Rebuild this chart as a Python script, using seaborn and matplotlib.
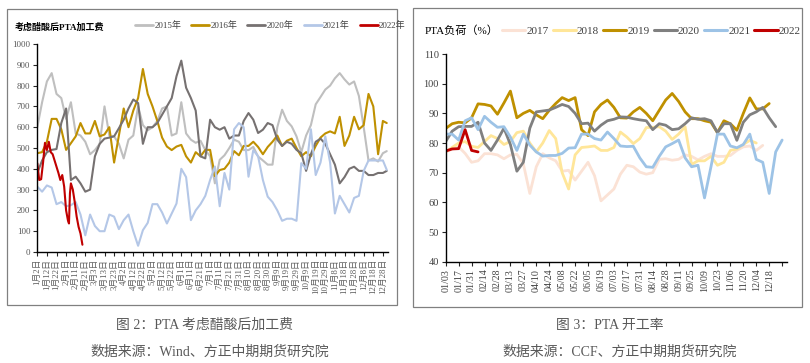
import matplotlib
matplotlib.use('Agg')
import matplotlib.pyplot as plt
import pandas as pd
import seaborn as sns
from matplotlib.patches import Rectangle
from matplotlib.lines import Line2D

sns.set_style('white')
plt.rcParams['font.family'] = ['Liberation Serif', 'Noto Sans CJK SC', 'DejaVu Sans']

# ---------------- left chart data (day of year offset from Jan 2) ----------------
days = list(range(0, 361, 5)) + [364]
v2015 = [600, 720, 820, 860, 760, 740, 640, 720, 570, 560, 530, 470, 490, 520, 700, 560,
         556, 520, 450, 540, 560, 700, 610, 585, 600, 630, 690, 700, 560, 570, 720, 570,
         540, 525, 535, 490, 460, 330, 443, 465, 500, 540, 530, 490, 490, 505, 459, 440,
         420, 420, 600, 684, 630, 604, 556, 480, 560, 610, 710, 745, 781, 800, 835, 860,
         830, 805, 820, 750, 600, 440, 450, 435, 475, 485]
v2016 = [475, 480, 530, 640, 640, 590, 491, 523, 556, 620, 570, 570, 630, 556, 565, 600,
         430, 560, 690, 600, 680, 740, 880, 760, 700, 630, 550, 507, 490, 507, 515, 460,
         430, 480, 460, 491, 491, 365, 394, 400, 430, 485, 465, 510, 510, 530, 505, 470,
         505, 530, 560, 510, 535, 545, 500, 460, 480, 460, 510, 550, 570, 580, 570, 650,
         510, 560, 650, 590, 610, 760, 700, 470, 630, 620]
v2020 = [380, 440, 480, 491, 495, 620, 690, 346, 362, 330, 290, 300, 460, 520, 545, 550,
         556, 595, 636, 690, 733, 716, 520, 600, 600, 620, 660, 700, 740, 845, 920, 790,
         740, 680, 460, 450, 636, 600, 588, 600, 545, 560, 560, 630, 668, 636, 572, 588,
         620, 610, 540, 510, 530, 520, 491, 475, 390, 470, 530, 545, 520, 470, 420, 330,
         360, 400, 410, 390, 390, 370, 370, 380, 380, 390]
v2021 = [314, 290, 320, 310, 230, 240, 220, 225, 240, 180, 80, 180, 125, 100, 100, 180,
         170, 110, 153, 180, 100, 30, 105, 140, 230, 230, 190, 137, 185, 233, 400, 360,
         153, 200, 230, 270, 346, 411, 220, 380, 300, 590, 620, 600, 362, 490, 460, 346,
         266, 240, 200, 150, 160, 160, 150, 427, 400, 590, 370, 430, 556, 430, 185, 270,
         230, 190, 260, 270, 390, 440, 440, 440, 440, 395]
days_2022 = [0, 2, 4, 6, 8, 10, 12, 14, 16, 18, 20, 22, 24, 26, 28, 30, 32, 33, 34, 35,
             37, 39, 41, 43, 45, 47]
v2022 = [427, 346, 350, 430, 525, 490, 530, 480, 470, 440, 410, 380, 346, 370, 314, 200,
         150, 137, 282, 330, 300, 240, 170, 121, 89, 35]
left_years = ['2015年', '2016年', '2020年', '2021年', '2022年']
left_colors = ['#BFBFBF', '#BF9000', '#767171', '#B4C7E7', '#C00000']
left_ticks = list(range(0, 361, 10))
left_ticklabels = ['1月2日', '1月12日', '1月22日', '2月1日', '2月11日', '2月21日', '3月3日',
                   '3月13日', '3月23日', '4月2日', '4月12日', '4月22日', '5月2日', '5月12日',
                   '5月22日', '6月1日', '6月11日', '6月21日', '7月1日', '7月11日', '7月21日',
                   '7月31日', '8月10日', '8月20日', '8月30日', '9月9日', '9月19日', '9月29日',
                   '10月9日', '10月19日', '10月29日', '11月8日', '11月18日', '11月28日',
                   '12月8日', '12月18日', '12月28日']

# ---------------- right chart data (weekly) ----------------
r2017 = [77, 78, 78.7, 76.5, 73.5, 74, 76.4, 76.4, 76, 74.7, 76, 76.2, 73, 63, 72, 76.4,
         75, 74, 70.5, 70.8, 67.5, 70.5, 73.5, 69, 60.5, 62.5, 64.5, 69.5, 72.5, 72, 70.2,
         69.5, 70, 74.5, 74.7, 74.2, 74.5, 76, 75.5, 74.3, 75.5, 76.4, 75.5, 75.5, 75.8,
         77.5, 78.7, 79, 77.5, 79.2]
r2018 = [77, 78.5, 80, 80.5, 78.9, 78.5, 80.5, 82.5, 81.5, 79.5, 80.5, 83.5, 84, 80, 77,
         80, 84.2, 81.5, 70, 64.5, 76, 78.5, 78.7, 79, 77.5, 77.5, 78.5, 83.7, 82, 79.8,
         81.5, 85.2, 85.3, 85.5, 84, 81.2, 83, 85.5, 72.8, 74, 74, 75.5, 72.5, 73.5, 77.5,
         78, 79.5, 80.9, 80]
r2019 = [84.9, 86.5, 87, 86.8, 88.5, 93.2, 93, 92.5, 89.7, 93.5, 97.5, 88.5, 90, 91, 89.5,
         88.2, 91, 93.3, 95.3, 94.3, 95.3, 84.5, 82.5, 90.5, 93, 94.5, 92, 88.5, 88.4, 90.5,
         92, 90, 87.5, 91, 94.5, 96.7, 94, 90.5, 88.2, 88.2, 87.5, 87, 83.5, 87.5, 86.5,
         84.3, 90, 95.2, 91.5, 91.5, 93.3]
r2020 = [80.5, 84, 85.5, 85.6, 85.6, 87, 80, 77.5, 81, 85, 79.5, 70.5, 73.5, 85, 90.5,
         90.8, 91.1, 92, 93, 92.3, 90, 86.5, 86.7, 84, 86, 87.5, 88, 88.8, 88.7, 88.2, 87.8,
         87.5, 84.5, 86.5, 86, 84.5, 84.8, 86.5, 88.5, 88, 88.2, 87.5, 83.5, 86.5, 86.5,
         80.9, 87, 89.5, 90.5, 92, 88.5, 85.5]
r2021 = [83, 83, 81, 87.5, 88.5, 84.5, 89, 87, 85.3, 85.5, 82, 77.5, 83, 79.3, 77, 75.6,
         75.8, 75.8, 76.5, 78.3, 78.4, 83, 83, 81.5, 81, 83.7, 81.5, 79, 78.8, 78.9, 75, 72,
         71.8, 75.5, 78.7, 79.8, 81, 75, 72, 72.5, 61.5, 72, 83, 83, 79, 78.4, 79.5, 83,
         74.5, 73.5, 63, 77, 81]
r2022 = [77.3, 78, 78.1, 84.5, 77.5, 77]
right_years = ['2017', '2018', '2019', '2020', '2021', '2022']
right_colors = ['#FBE2D5', '#FFE699', '#BF9000', '#808080', '#9DC3E6', '#C00000']
right_ticklabels = ['01/03', '01/17', '01/31', '02/14', '02/28', '03/13', '03/27', '04/10',
                    '04/24', '05/08', '05/22', '06/05', '06/19', '07/03', '07/17', '07/31',
                    '08/14', '08/28', '09/11', '09/25', '10/09', '10/23', '11/06', '11/20',
                    '12/04', '12/18', '']

# ---------------- build frames ----------------
left_rows = []
for yr, vals in zip(left_years[:4], [v2015, v2016, v2020, v2021]):
    for d, v in zip(days, vals):
        left_rows.append((d, v, yr))
for d, v in zip(days_2022, v2022):
    left_rows.append((d, v, '2022年'))
df_left = pd.DataFrame(left_rows, columns=['day', 'value', 'year'])

right_rows = []
for yr, vals in zip(right_years, [r2017, r2018, r2019, r2020, r2021, r2022]):
    for w, v in enumerate(vals):
        right_rows.append((w, v, yr))
df_right = pd.DataFrame(right_rows, columns=['week', 'value', 'year'])

W, H = 810, 363
fig = plt.figure(figsize=(W / 100, H / 100), dpi=100)
fig.patch.set_facecolor('white')

def fx(px):
    return px / W

def fy(py):
    return 1 - py / H

# panel frames
fig.add_artist(Rectangle((fx(7), fy(305)), fx(390), 296 / H, transform=fig.transFigure,
                         fill=False, edgecolor='#808080', lw=0.9))
fig.add_artist(Rectangle((fx(413), fy(307)), fx(389), 299 / H, transform=fig.transFigure,
                         fill=False, edgecolor='#808080', lw=0.9))

# ---------------- left axes ----------------
ax1 = fig.add_axes([fx(37.3), fy(252), fx(350.4), 208 / H])
sns.lineplot(data=df_left, x='day', y='value', hue='year', hue_order=left_years,
             palette=left_colors, ax=ax1, linewidth=1.5, legend=False, sort=False,
             estimator=None, errorbar=None)
ax1.set_xlim(0, 365)
ax1.set_ylim(0, 1000)
ax1.set_yticks(range(0, 1001, 100))
ax1.set_xticks(left_ticks)
ax1.set_xticklabels(left_ticklabels, rotation=90, fontsize=6.3, color='#595959')
ax1.tick_params(axis='y', labelsize=6.5, labelcolor='#595959', length=3, width=0.8,
                direction='out', left=True, pad=2)
ax1.tick_params(axis='x', length=3, width=0.8, direction='out', bottom=True, pad=2)
ax1.set_xlabel('')
ax1.set_ylabel('')
for s in ['top', 'right']:
    ax1.spines[s].set_visible(False)
for s in ['left', 'bottom']:
    ax1.spines[s].set_color('black')
    ax1.spines[s].set_linewidth(1.0)

fig.text(fx(15), fy(27), '考虑醋酸后PTA加工费', fontsize=6.5, fontweight='bold',
         color='black', va='center', ha='left')
h1 = [Line2D([], [], color=c, lw=2) for c in left_colors]
fig.legend(h1, left_years, loc='center left', bbox_to_anchor=(fx(135), fy(26)),
           ncol=5, frameon=False, fontsize=6.5, handlelength=2.0, handletextpad=0.15,
           columnspacing=1.1, borderpad=0, borderaxespad=0, labelcolor='#404040')

# ---------------- right axes ----------------
ax2 = fig.add_axes([fx(445.7), fy(261.7), fx(341.3), 207.7 / H])
sns.lineplot(data=df_right, x='week', y='value', hue='year', hue_order=right_years,
             palette=right_colors, ax=ax2, linewidth=2.0, legend=False, sort=False,
             estimator=None, errorbar=None)
ax2.set_xlim(0, 52.75)
ax2.set_ylim(40, 110)
ax2.set_yticks(range(40, 111, 10))
ax2.set_xticks(range(0, 53, 2))
ax2.set_xticklabels(right_ticklabels, rotation=90, fontsize=7.2, color='#404040')
ax2.tick_params(axis='y', labelsize=7.5, labelcolor='#404040', length=3, width=0.8,
                direction='out', left=True, pad=2)
ax2.tick_params(axis='x', length=3, width=0.8, direction='out', bottom=True, pad=2)
ax2.set_xlabel('')
ax2.set_ylabel('')
for s in ['top', 'right']:
    ax2.spines[s].set_visible(False)
for s in ['left', 'bottom']:
    ax2.spines[s].set_color('black')
    ax2.spines[s].set_linewidth(1.0)

fig.text(fx(425), fy(31), 'PTA负荷（%）', fontsize=8, color='black', va='center', ha='left')
h2 = [Line2D([], [], color=c, lw=2.2) for c in right_colors]
fig.legend(h2, right_years, loc='center left', bbox_to_anchor=(fx(502), fy(31)),
           ncol=6, frameon=False, fontsize=8, handlelength=2.1, handletextpad=0.1,
           columnspacing=0.35, borderpad=0, borderaxespad=0, labelcolor='#404040')

# ---------------- captions ----------------
cap_color = '#595959'
fig.text(fx(205), fy(325), '图 2：PTA 考虑醋酸后加工费', fontsize=10, color=cap_color,
         ha='center', va='center')
fig.text(fx(210), fy(352), '数据来源：Wind、方正中期期货研究院', fontsize=10, color=cap_color,
         ha='center', va='center')
fig.text(fx(610), fy(325), '图 3：PTA 开工率', fontsize=10, color=cap_color,
         ha='center', va='center')
fig.text(fx(620), fy(352), '数据来源：CCF、方正中期期货研究院', fontsize=10, color=cap_color,
         ha='center', va='center')

fig.savefig('out.png', dpi=100, facecolor='white')
